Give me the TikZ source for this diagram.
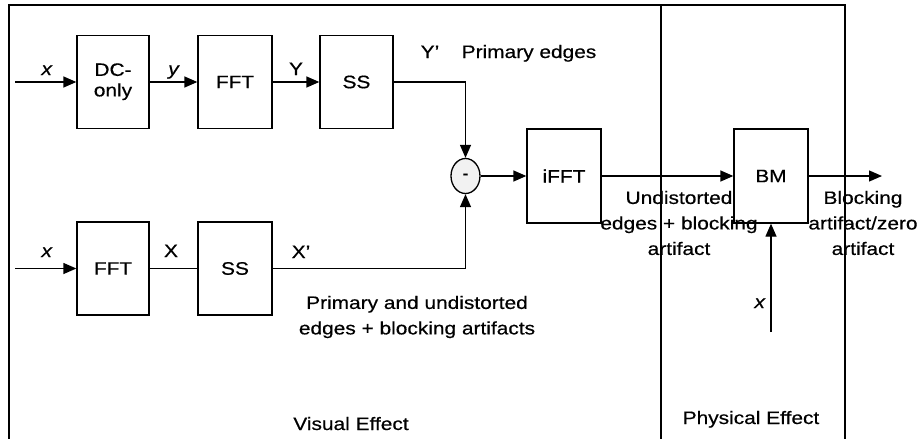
\documentclass[tikz,border=0pt]{standalone}
\usepackage{fontspec}
\setmainfont{Liberation Sans}[FakeStretch=1.16,FakeBold=0.5]
\usetikzlibrary{arrows.meta,shapes.geometric}
\begin{document}
\begin{tikzpicture}[x=1pt,y=-1pt,
  every node/.style={font=\fontsize{18}{25.5}\selectfont},
  blk/.style={draw,line width=1.3pt,minimum width=73pt,minimum height=93pt,inner sep=0pt},
  wire/.style={line width=1.3pt},
  arr/.style={wire,-{Triangle[length=13pt,width=11pt]}},
  lbl/.style={anchor=base,inner sep=0pt},
  txt/.style={align=center,inner sep=0pt},
  framel/.style={line width=1.4pt}
]
\useasboundingbox (0,0) rectangle (922,439);
% frame
\coordinate (fbl) at (9,439);
\coordinate (ftl) at (9,5);
\coordinate (ftr) at (845,5);
\coordinate (fbr) at (845,439);
\coordinate (fmt) at (661,5);
\coordinate (fmb) at (661,439);
\draw[framel] (fbl) -- (ftl) -- (ftr) -- (fbr);
\draw[framel] (fmt) -- (fmb);

% blocks
\node[blk,minimum width=72pt] (dc) at (113,82) {\fontsize{18}{20.5}\selectfont\begin{tabular}{@{}c@{}}DC-\\only\end{tabular}};
\node[blk,minimum width=74pt] (fft1) at (235,82) {FFT};
\node[blk] (ss1) at (356.5,82) {SS};
\node[blk,minimum width=72pt] (fft2) at (113,268.5) {FFT};
\node[blk,minimum width=74pt] (ss2) at (235,268.5) {SS};
\node[blk,minimum width=74pt,minimum height=94pt] (ifft) at (564,176) {iFFT};
\node[blk,minimum width=74pt,minimum height=94pt] (bm) at (771,176) {BM};
\node[draw,ellipse,line width=1.3pt,fill=gray!10,minimum width=29pt,minimum height=35pt,inner sep=0pt] (sub) at (465.5,176) {\fontsize{14}{14}\selectfont\bfseries -};

% free ends
\coordinate (in1) at (15,82);
\coordinate (in2) at (15,268.5);
\coordinate (out) at (882,176);
\coordinate (xin) at (771,332);

% connectors
\draw[arr] (in1) -- (dc.west);
\draw[arr] (dc.east) -- (fft1.west);
\draw[arr] (fft1.east) -- (ss1.west);
\draw[arr] (ss1.east) -| (sub.north);
\draw[arr] (in2) -- (fft2.west);
\draw[wire] (fft2.east) -- (ss2.west);
\draw[arr] (ss2.east) -| (sub.south);
\draw[arr] (sub.east) -- (ifft.west);
\draw[arr] (ifft.east) -- (bm.west);
\draw[arr] (bm.east) -- (out);
\draw[arr] (xin) -- (bm.south);

% labels
\node[lbl] (lx1) at (47,75) {\textit{x}};
\node[lbl] (ly) at (174,75) {\textit{y}};
\node[lbl] (lY) at (296,75) {Y};
\node[lbl] (lYp) at (430,58) {Y’};
\node[lbl] (lpe) at (529,58) {Primary edges};
\node[lbl] (lx2) at (47,257) {\textit{x}};
\node[lbl] (lX) at (171,257) {X};
\node[lbl] (lXp) at (301,258) {X’};
\node[txt] (lpu) at (417,317) {Primary and undistorted\\edges + blocking artifacts};
\node[txt] (lue) at (679,223) {Undistorted\\edges + blocking\\artifact};
\node[txt] (lba) at (863,223) {Blocking\\artifact/zero\\artifact};
\node[lbl] (lx3) at (760,308) {\textit{x}};
\node[lbl] (lve) at (351,430) {Visual Effect};
\node[lbl] (lpe2) at (751,424) {Physical Effect};
\end{tikzpicture}
\end{document}
